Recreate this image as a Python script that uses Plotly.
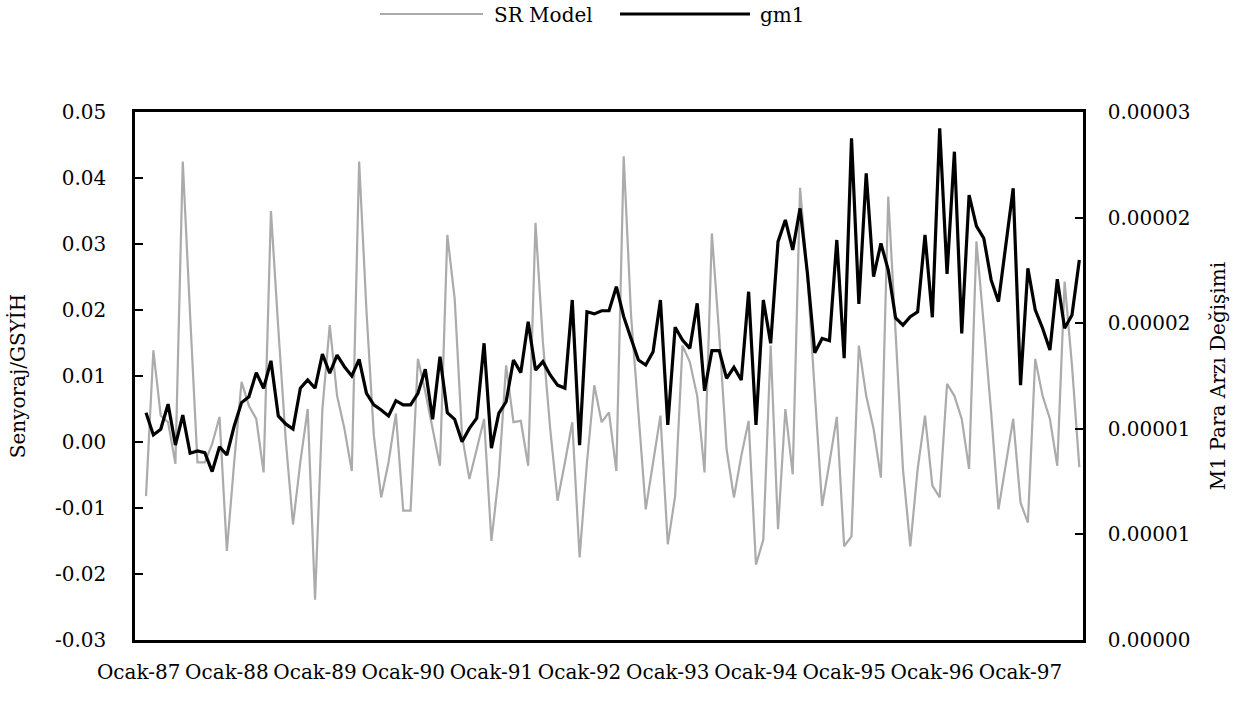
import plotly.graph_objects as go

# Monthly categories, January 1987 - September 1997
month_names = ["Ocak", "Şubat", "Mart", "Nisan", "Mayıs", "Haziran",
               "Temmuz", "Ağustos", "Eylül", "Ekim", "Kasım", "Aralık"]
years = list(range(87, 98))
months = [f"{m}-{y}" for y in years for m in month_names][:129]
year_labels = [f"Ocak-{y}" for y in years]

# Seigniorage / GDP from the SR model (left axis)
sr_model = [
    None, -0.0082, 0.0139, 0.0040, 0.0030, -0.0033, 0.0425, 0.0192, -0.0031, -0.0031,
    -0.0003, 0.0038, -0.0165, -0.0030, 0.0091, 0.0055, 0.0035, -0.0046, 0.0350, 0.0172,
    0.0005, -0.0125, -0.0030, 0.0050, -0.0239, 0.0050, 0.0177, 0.0070, 0.0020, -0.0044,
    0.0425, 0.0198, 0.0010, -0.0084, -0.0031, 0.0043, -0.0104, -0.0104, 0.0126, 0.0076,
    0.0020, -0.0036, 0.0314, 0.0217, 0.0010, -0.0056, -0.0011, 0.0035, -0.0150, -0.0051,
    0.0116, 0.0030, 0.0032, -0.0036, 0.0332, 0.0152, 0.0020, -0.0089, -0.0031, 0.0030,
    -0.0175, -0.0031, 0.0086, 0.0030, 0.0045, -0.0044, 0.0433, 0.0192, 0.0045, -0.0102,
    -0.0031, 0.0040, -0.0155, -0.0082, 0.0146, 0.0121, 0.0070, -0.0046, 0.0316, 0.0162,
    -0.0011, -0.0084, -0.0021, 0.0032, -0.0186, -0.0148, 0.0146, -0.0132, 0.0050, -0.0049,
    0.0385, 0.0253, 0.0076, -0.0097, -0.0031, 0.0038, -0.0158, -0.0143, 0.0146, 0.0070,
    0.0020, -0.0054, 0.0372, 0.0170, -0.0041, -0.0158, -0.0041, 0.0040, -0.0066, -0.0084,
    0.0088, 0.0070, 0.0035, -0.0041, 0.0304, 0.0177, 0.0045, -0.0102, -0.0031, 0.0035,
    -0.0092, -0.0122, 0.0126, 0.0070, 0.0035, -0.0036, 0.0243, 0.0116, -0.0038,
]

# Change in M1 money supply (right axis)
gm1 = [
    None, 10.76e-6, 9.71e-6, 9.98e-6, 11.17e-6, 9.23e-6, 10.65e-6, 8.84e-6, 8.95e-6, 8.87e-6,
    7.97e-6, 9.15e-6, 8.76e-6, 10.13e-6, 11.24e-6, 11.52e-6, 12.66e-6, 11.92e-6, 13.22e-6, 10.61e-6,
    10.23e-6, 9.99e-6, 11.92e-6, 12.31e-6, 11.92e-6, 13.54e-6, 12.63e-6, 13.49e-6, 12.94e-6, 12.50e-6,
    13.29e-6, 11.68e-6, 11.13e-6, 10.89e-6, 10.61e-6, 11.33e-6, 11.13e-6, 11.13e-6, 11.68e-6, 12.82e-6,
    10.45e-6, 13.41e-6, 10.76e-6, 10.45e-6, 9.39e-6, 10.02e-6, 10.50e-6, 14.05e-6, 9.08e-6, 10.73e-6,
    11.28e-6, 13.26e-6, 12.66e-6, 15.07e-6, 12.78e-6, 13.18e-6, 12.55e-6, 12.07e-6, 11.92e-6, 16.10e-6,
    9.23e-6, 15.54e-6, 15.44e-6, 15.59e-6, 15.59e-6, 16.73e-6, 15.31e-6, 14.28e-6, 13.26e-6, 13.02e-6,
    13.65e-6, 16.10e-6, 10.18e-6, 14.81e-6, 14.20e-6, 13.81e-6, 15.94e-6, 11.80e-6, 13.70e-6, 13.70e-6,
    12.39e-6, 12.91e-6, 12.31e-6, 16.49e-6, 10.18e-6, 16.10e-6, 14.05e-6, 18.86e-6, 19.89e-6, 18.47e-6,
    20.44e-6, 17.36e-6, 13.60e-6, 14.28e-6, 14.17e-6, 18.94e-6, 13.34e-6, 23.75e-6, 15.91e-6, 22.10e-6,
    17.20e-6, 18.78e-6, 17.52e-6, 15.25e-6, 14.91e-6, 15.31e-6, 15.54e-6, 19.18e-6, 15.28e-6, 24.23e-6,
    17.33e-6, 23.12e-6, 14.52e-6, 21.07e-6, 19.60e-6, 19.02e-6, 17.05e-6, 16.02e-6, 18.62e-6, 21.39e-6,
    12.07e-6, 17.60e-6, 15.63e-6, 14.76e-6, 13.73e-6, 17.08e-6, 14.76e-6, 15.39e-6, 17.99e-6,
]

left_range = [-0.03, 0.05]
left_ticks = [-0.03, -0.02, -0.01, 0.0, 0.01, 0.02, 0.03, 0.04, 0.05]
left_ticktext = [f"{v:.2f}" for v in left_ticks]
right_range = [0.0, 0.000025]
right_ticks = [0.0, 0.000005, 0.00001, 0.000015, 0.00002, 0.000025]
right_ticktext = [f"{v:.5f}" for v in right_ticks]

FONT = "DejaVu Serif"
FS = 20
GRAY = "#ababab"

fig = go.Figure()
fig.add_trace(go.Scatter(x=months, y=sr_model, name="SR Model", mode="lines",
                         line=dict(color=GRAY, width=2.2), yaxis="y", showlegend=False))
fig.add_trace(go.Scatter(x=months, y=gm1, name="gm1", mode="lines",
                         line=dict(color="black", width=3.2), yaxis="y2", showlegend=False))

n = len(months)
zero_pos = (0 - left_range[0]) / (left_range[1] - left_range[0])
boundaries = [months.index(lbl) - 0.5 for lbl in year_labels[1:]]

fig.update_layout(
    width=1252, height=701,
    margin=dict(l=135, r=169, t=112, b=61),
    paper_bgcolor="white", plot_bgcolor="white",
    font=dict(family=FONT, size=FS, color="black"),
    xaxis=dict(
        type="category", categoryorder="array", categoryarray=months,
        range=[-0.5, n - 0.5],
        tickmode="array", tickvals=year_labels, ticktext=year_labels,
        ticks="", showgrid=False, zeroline=False,
        showline=True, linecolor="black", linewidth=2.5, mirror=True,
        ticklabelstandoff=12, tickangle=0,
        tickfont=dict(family=FONT, size=FS),
    ),
    # category axis drawn along the zero level, with year separators
    xaxis2=dict(
        type="linear", overlaying="x", anchor="free", position=zero_pos,
        range=[-0.5, n - 0.5], tickmode="array", tickvals=boundaries,
        ticks="inside", ticklen=6, tickwidth=2, tickcolor="black",
        showticklabels=False, showgrid=False, zeroline=False,
        showline=True, linecolor="black", linewidth=2.5,
    ),
    yaxis=dict(
        range=left_range, tickmode="array", tickvals=left_ticks, ticktext=left_ticktext,
        ticks="inside", ticklen=8, tickwidth=2, tickcolor="black",
        showgrid=False, zeroline=False,
        showline=True, linecolor="black", linewidth=2.5,
        ticklabelstandoff=22,
        tickfont=dict(family=FONT, size=FS),
        title=dict(text="Senyoraj/GSYİH", standoff=24, font=dict(family=FONT, size=FS)),
    ),
    yaxis2=dict(
        overlaying="y", side="right", range=right_range,
        tickmode="array", tickvals=right_ticks, ticktext=right_ticktext,
        ticks="inside", ticklen=8, tickwidth=2, tickcolor="black",
        showgrid=False, zeroline=False,
        showline=True, linecolor="black", linewidth=2.5,
        ticklabelstandoff=18,
        tickfont=dict(family=FONT, size=FS),
        title=dict(text="M1 Para Arzı Değişimi", standoff=22, font=dict(family=FONT, size=FS)),
    ),
)

# Legend row above the plot
def px_x(p):
    return (p - 135) / 948

def px_y(p):
    return (640 - p) / 528

legend_items = [("SR Model", GRAY, 2.2, 380, 483, 492), ("gm1", "black", 3.2, 620, 750, 758)]
for label, color, width, x0, x1, xt in legend_items:
    fig.add_shape(type="line", xref="paper", yref="paper",
                  x0=px_x(x0), x1=px_x(x1), y0=px_y(14), y1=px_y(14),
                  line=dict(color=color, width=width))
    fig.add_annotation(text=label, xref="paper", yref="paper", x=px_x(xt), y=px_y(15),
                       xanchor="left", yanchor="middle", showarrow=False,
                       font=dict(family=FONT, size=FS, color="black"))

fig.write_html("out.html")
